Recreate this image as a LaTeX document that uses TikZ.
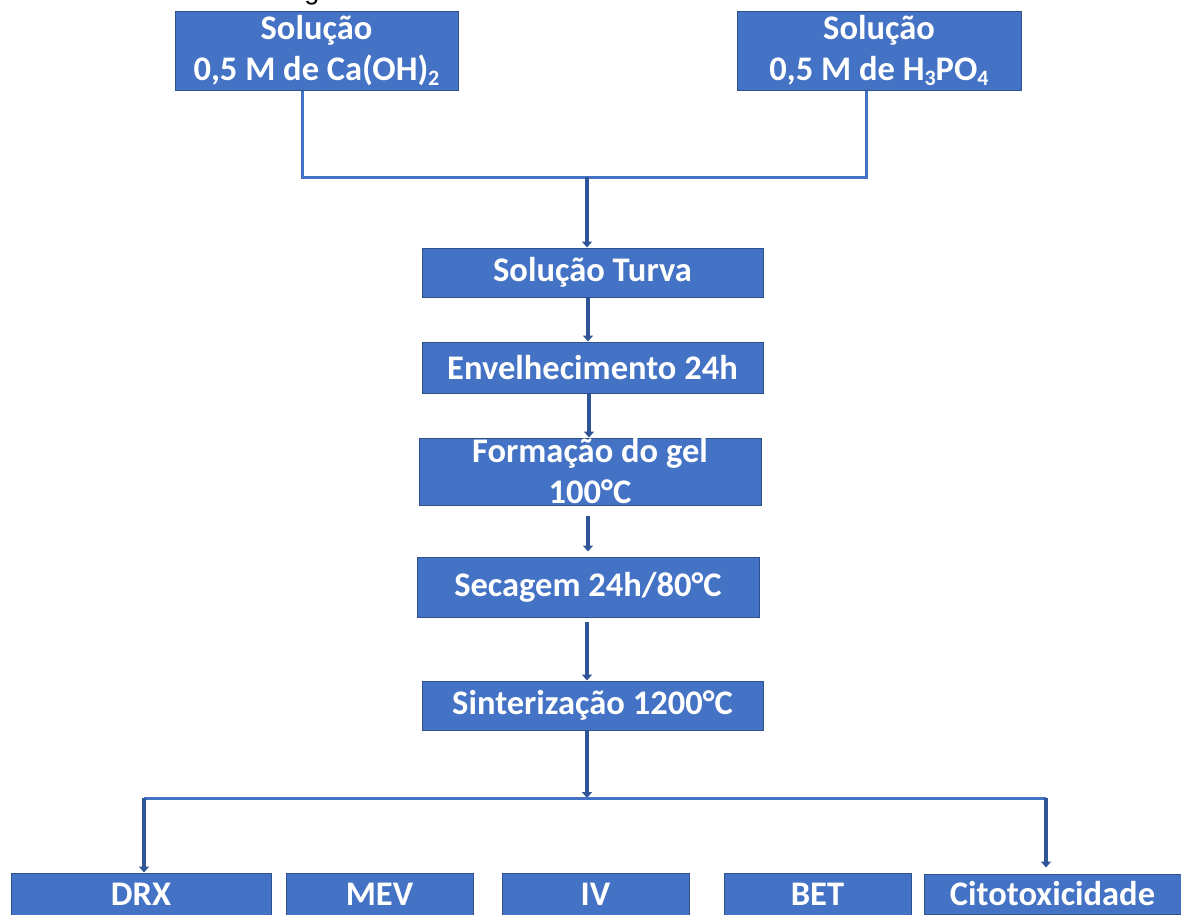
\documentclass[tikz,border=0pt]{standalone}
\usepackage{fontspec}
\setmainfont{Carlito}
\newfontfamily\arialfont{Liberation Sans}
\usetikzlibrary{arrows.meta,calc}
\definecolor{boxfill}{HTML}{4472C4}
\definecolor{boxedge}{HTML}{2F528F}
\definecolor{arrowcol}{HTML}{2F5597}
\newcommand{\subsc}[1]{\raisebox{-0.32ex}{\fontsize{22}{22}\selectfont #1}}
\tikzset{
  box/.style={draw=boxedge, line width=1pt, fill=boxfill, text=white,
    font=\bfseries\fontsize{34.5}{41}\selectfont, align=center, inner sep=0pt},
  conn/.style={draw=boxfill, line width=3pt},
  arr/.style={draw=arrowcol, line width=3.5pt, -{Triangle[width=10pt,length=6pt]}},
}
\begin{document}
\begin{tikzpicture}[x=1pt,y=-1pt]
\useasboundingbox (0,0) rectangle (1181,914);
% fragment of caption above
\node[anchor=base, font=\arialfont\fontsize{27}{27}\selectfont, inner sep=0pt] (cap) at (312,-1) {g};
% top boxes
\node[box, minimum width=283pt, minimum height=79pt] (c1) at (316.5,50.5) {Solução\\0,5 M de Ca(OH)\subsc{2}};
\node[box, minimum width=284pt, minimum height=79pt] (c2) at (879,50.5) {Solução\\0,5 M de H\subsc{3}PO\subsc{4}};
% process boxes
\node[box, minimum width=341pt, minimum height=49pt] (turva) at (592.5,272.5) {Solução Turva};
\node[box, minimum width=341pt, minimum height=51pt] (env) at (592.5,367.5) {Envelhecimento 24h};
\node[box, minimum width=342pt, minimum height=67pt] (form) at (590,471.5) {Formação do gel\\100°C};
\node[box, minimum width=342pt, minimum height=60pt] (sec) at (588,587) {Secagem 24h/80°C};
\node[box, minimum width=341pt, minimum height=49pt] (sint) at (592.5,705.5) {Sinterização 1200°C};
% analysis boxes
\node[box, minimum width=260pt, minimum height=42pt] (drx) at (141,894) {DRX};
\node[box, minimum width=187pt, minimum height=42pt] (mev) at (379.5,894) {MEV};
\node[box, minimum width=187pt, minimum height=42pt] (iv) at (595.5,894) {IV};
\node[box, minimum width=187pt, minimum height=42pt] (bet) at (817.5,894) {BET};
\node[box, minimum width=257pt, minimum height=40pt] (cito) at (1052.5,894) {Citotoxicidade};
% junctions
\coordinate (j1) at (587,177);
\coordinate (j2) at (587,798);
% top merge
\draw[conn] ([xshift=-14.5pt]c1.south) |- ([xshift=-13pt]c2.south |- j1) -- ([xshift=-13pt]c2.south);
\draw[arr] (j1) -- (turva.north -| j1);
% chain
\draw[arr] ([xshift=-4.5pt]turva.south) -- ([xshift=-4.5pt]turva.south |- env.north);
\draw[arr] ([xshift=-3.5pt]env.south) -- ([xshift=-3.5pt]env.south |- form.north);
\draw[arr] ([xshift=-2pt,yshift=-10pt]form.south) -- ([xshift=-2pt,yshift=5pt]form.south |- sec.north);
\draw[arr] ([xshift=-1pt,yshift=-4pt]sec.south) -- ([xshift=-1pt]sec.south |- sint.north);
\draw[arr] ([xshift=-5.5pt]sint.south) -- (j2);
% bottom branch
\draw[conn] ([xshift=3pt]drx.north |- j2) -- ([xshift=-6.5pt]cito.north |- j2);
\draw[arr] ([xshift=3pt]drx.north |- j2) -- ([xshift=3pt]drx.north);
\draw[arr] ([xshift=-6.5pt]cito.north |- j2) -- ([xshift=-6.5pt,yshift=6pt]cito.north);
\end{tikzpicture}
\end{document}
